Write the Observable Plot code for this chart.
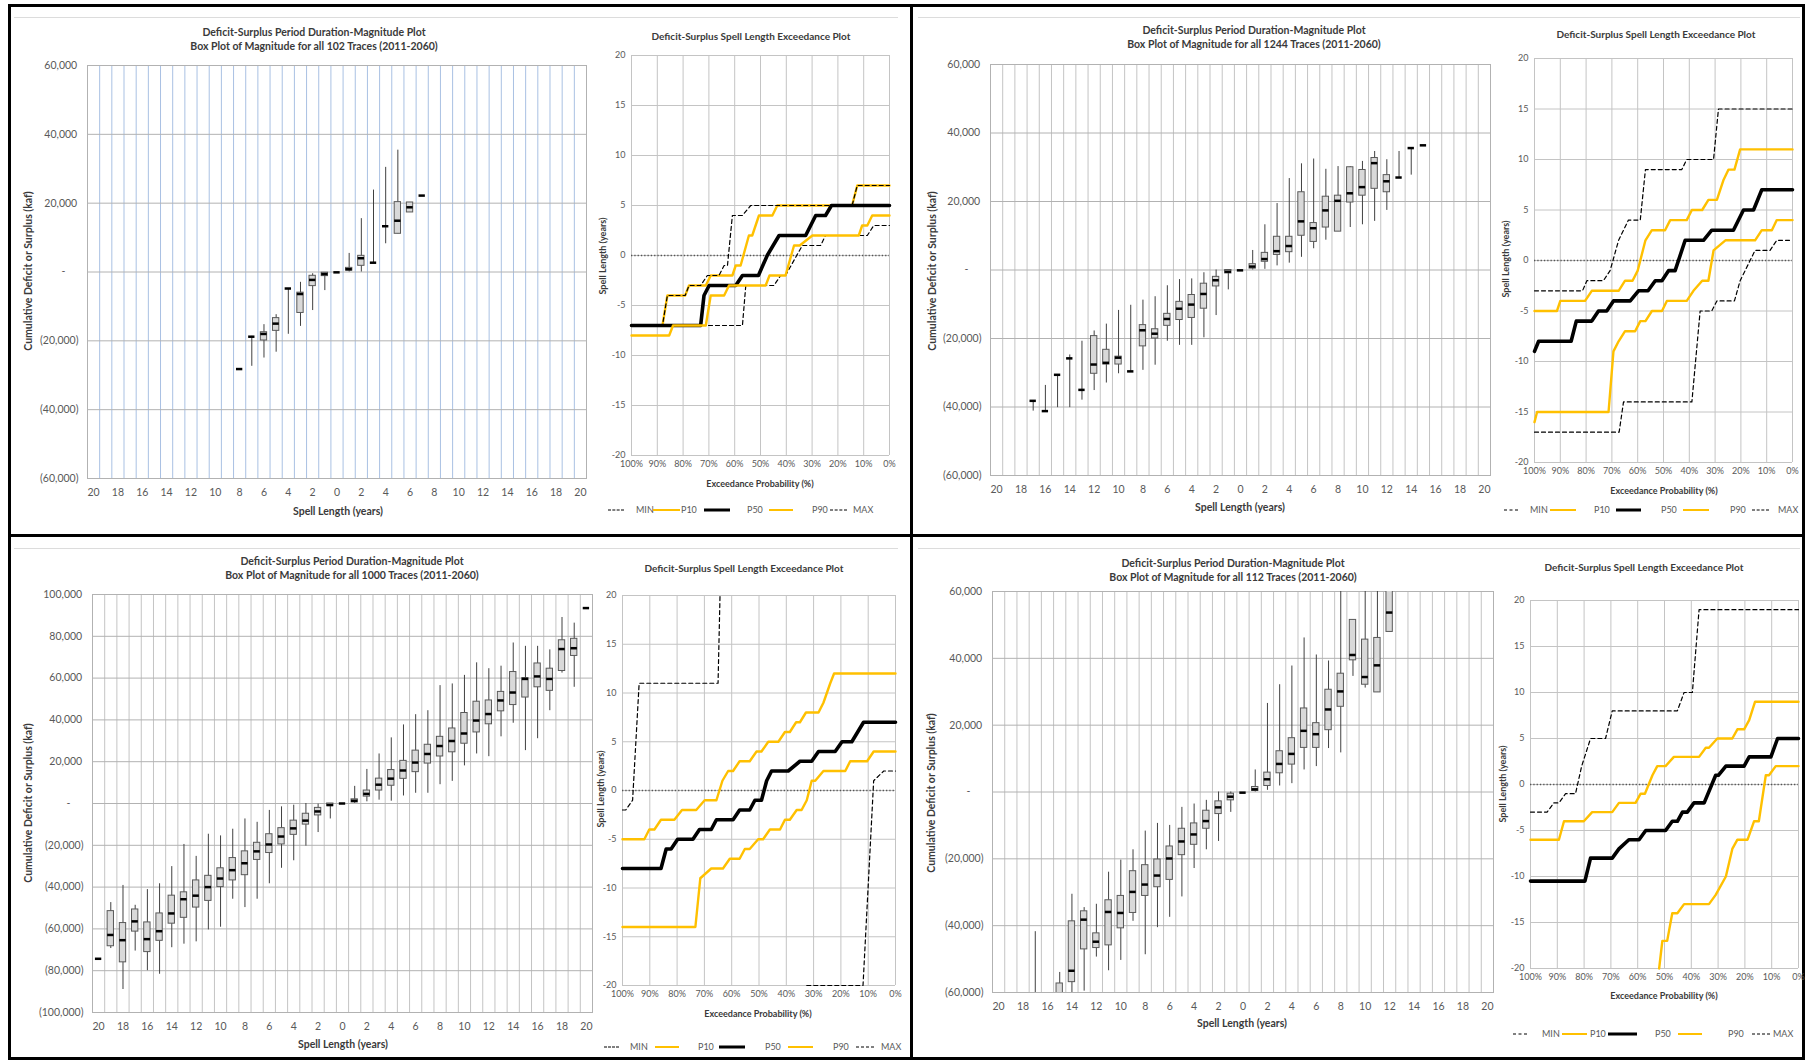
<!DOCTYPE html>
<html><head><meta charset="utf-8">
<script src="https://cdn.jsdelivr.net/npm/d3@7"></script>
<script src="https://cdn.jsdelivr.net/npm/@observablehq/plot@0.6"></script>
<style>
body{margin:0;background:#fff;}
#page{position:relative;width:1815px;height:1062px;overflow:hidden;font-family:Lato,"Open Sans",sans-serif;background:#fff;}
.t{position:absolute;white-space:nowrap;color:#3a3a3a;font-weight:bold;line-height:1;}
.lg{position:absolute;white-space:nowrap;color:#595959;font-size:9px;line-height:1;}
.sw{position:absolute;height:0;}
.ln{position:absolute;}
</style></head><body><div id="page"></div>
<script>
// ---------------- DATA ----------------
// box plot rows: [spell length (neg = deficit), whisker low, q1, median, q3, whisker high] in kaf
const tlBox = [
 [-8,-28200,-28200,-28200,-28200,-28200],[-7,-27400,-18800,-18800,-18800,-18700],
 [-6,-25000,-19900,-18000,-17500,-15300],[-5,-23300,-17100,-15000,-13400,-12400],
 [-4,-18100,-4800,-4800,-4800,-4800],[-3,-15800,-11900,-6400,-6000,-3000],
 [-2,-11200,-4100,-2300,-1100,-500],[-1,-5400,-1200,-600,-200,-200],
 [0,-100,-100,-100,-100,-100],[1,0,400,800,1200,5400],[2,0,1800,4000,4700,15500],
 [3,2700,2700,2700,2700,23800],[4,8200,13300,13300,13300,30400],
 [5,11100,11100,14900,20300,35400],[6,17300,17300,18800,20200,20200],
 [7,22200,22200,22200,22200,22200]
];
const trBox = [
 [-17,-41200,-38200,-38200,-38200,-38200],[-16,-41200,-41200,-41200,-41200,-33700],
 [-15,-40200,-30600,-30600,-30600,-30600],[-14,-40200,-25800,-25800,-25800,-24800],
 [-13,-38000,-35000,-35000,-35000,-20800],[-12,-35200,-30300,-27600,-19300,-17800],
 [-11,-33000,-27600,-27100,-23300,-15800],[-10,-30300,-27600,-25600,-25300,-11800],
 [-9,-29600,-29600,-29600,-29600,-10300],[-8,-29300,-22300,-17600,-16100,-8800],
 [-7,-27800,-20000,-18600,-17300,-7800],[-6,-20800,-16300,-14300,-12800,-4600],
 [-5,-22000,-14600,-11300,-9300,-2800],[-4,-22000,-14000,-10100,-7300,-2600],
 [-3,-19800,-11300,-7000,-4000,-800],[-2,-13300,-4800,-3000,-2000,0],
 [-1,-5800,-1000,-500,0,0],[0,-100,-100,-100,-100,-100],
 [1,0,400,1000,1700,5700],[2,200,2400,3200,5000,13200],[3,1200,4400,5500,9700,19400],
 [4,2000,5200,7000,9700,26700],[5,3700,10000,14200,22700,31000],
 [6,6200,8200,12200,13700,32400],[7,8700,12400,17400,21400,29400],
 [8,11200,11200,20200,21700,30200],[9,12400,19700,22400,30000,30200],
 [10,13200,21700,24200,29200,31700],[11,14200,23700,31200,32700,34600],
 [12,17400,22700,25900,27700,32200],[13,27000,27000,27000,27000,34600],
 [14,27700,35600,35600,35600,35600],[15,36400,36400,36400,36400,36400]
];
const blBox = [
 [-20,-74300,-74300,-74300,-74300,-74300],[-19,-69400,-68300,-62900,-51500,-47400],
 [-18,-89000,-76000,-65400,-57200,-39200],[-17,-70600,-61300,-56400,-50700,-48700],
 [-16,-80000,-71100,-64900,-56900,-41200],[-15,-81700,-65700,-61100,-52600,-38400],
 [-14,-69000,-57500,-52600,-44100,-30200],[-13,-67300,-54700,-45800,-42500,-19600],
 [-12,-66200,-49800,-44100,-36800,-25300],[-11,-60500,-46600,-40000,-34600,-14700],
 [-10,-59200,-40000,-35900,-31000,-15500],[-9,-45800,-36800,-31900,-26100,-12300],
 [-8,-49800,-34300,-28600,-22900,-7400],[-7,-45800,-27000,-22900,-18800,-9000],
 [-6,-38400,-23700,-19600,-14700,-3300],[-5,-31000,-19600,-15800,-11800,-1600],
 [-4,-27400,-15000,-11900,-8200,-800],[-3,-20400,-10100,-8200,-4900,0],
 [-2,-13900,-5700,-3800,-2100,-300],[-1,-7400,-1300,-700,0,0],[0,0,0,0,0,0],
 [1,0,500,1300,2000,8200],[2,800,3300,4600,6200,16300],[3,1600,6200,9000,11900,23700],
 [4,1100,8500,11900,16000,31400],[5,3600,11800,15800,20400,37600],
 [6,4900,15000,19600,25300,42500],[7,4900,19100,23700,28100,44400],
 [8,9000,22500,27500,31900,56400],[9,10600,24500,29900,35900,57200],
 [10,18000,28600,33500,43300,61300],[11,23700,34000,39700,48700,67300],
 [12,22400,37900,42800,49300,64500],[13,31900,44100,49300,53400,65700],
 [14,38400,47100,53100,62900,76800],[15,25300,50700,59600,60000,75200],
 [16,31000,55600,60800,67000,75200],[17,44400,53900,59600,64500,73500],
 [18,62400,63400,73900,78100,89000],[19,55600,70600,74300,78800,86300],
 [20,93500,93500,93500,93500,93500]
];
const brBox = [
 [-17,-66000,-64000,-63000,-62000,-41800],[-15,-66000,-64000,-61000,-57300,-54000],
 [-14,-62000,-56900,-53500,-38700,-30600],[-13,-59600,-47100,-38200,-35700,-34600],
 [-12,-49400,-46700,-44800,-42300,-33600],[-11,-53500,-45900,-35900,-32400,-24000],
 [-10,-50400,-40800,-36200,-31100,-20400],[-9,-38700,-36200,-29900,-23700,-17300],
 [-8,-48700,-31100,-27700,-21900,-11700],[-7,-40600,-28500,-25000,-20200,-9400],
 [-6,-37500,-26300,-19900,-16300,-10000],[-5,-31400,-18900,-14800,-11000,-4600],
 [-4,-22900,-15800,-12700,-9400,-3600],[-3,-17300,-11000,-8700,-5600,-2500],
 [-2,-14800,-6600,-4600,-2800,0],[-1,-6100,-2500,-1400,-500,0],
 [0,-200,-200,-200,-200,-200],[1,0,300,800,1500,6600],[2,500,1800,3800,5800,26500],
 [3,1800,5600,8400,12200,32100],[4,2500,8200,11400,16100,37700],
 [5,6600,13200,18300,25000,46100],[6,7600,13200,17300,20600,41000],
 [7,13000,18500,24700,30600,39200],[8,11700,25500,30100,35400,62000],
 [9,34600,39400,41000,51500,51500],[10,31100,32100,34400,45600,62000],
 [11,29800,29800,37900,46100,62000],[12,47900,47900,53700,62000,62000]
];

// exceedance series: [exceedance probability %, spell length years]
const tlMin = [[100,-7],[57,-7],[55.7,-3],[44.8,-3],[42.2,-2],[40.3,-2],[33.8,1],[26.7,1],[24.8,2],[8.6,2],[6.1,3],[0,3]];
const tlP10 = [[100,-7],[88,-7],[86.1,-4],[79.2,-4],[77.7,-3],[71.2,-3],[69.3,-2],[60.9,-2],[59.6,-1],[57.7,-1],[54.5,2],[53.2,2],[50.6,4],[45.4,4],[43.5,5],[14.5,5],[12.5,7],[0,7]];
const tlP50 = [[100,-7],[73.2,-7],[71.9,-4],[69.9,-3],[59.6,-3],[57,-2],[50.8,-2],[47.4,0],[42.8,2],[32.5,2],[28.6,4],[24.8,4],[22.5,5],[0,5]];
const tlP90 = [[100,-8],[85.4,-8],[83.9,-7],[71.2,-7],[69.3,-4],[64.1,-4],[62.2,-3],[48,-3],[46.5,-2],[40.3,-2],[37,1],[34.8,1],[29.9,2],[11.9,2],[10.6,3],[8.6,3],[6.7,4],[0,4]];
const tlMax = [[100,-7],[88,-7],[86.1,-4],[79.2,-4],[77.7,-3],[73.2,-3],[70.6,-2],[66.1,-2],[64.1,-1],[62.8,-1],[60.9,4],[57,4],[53.8,5],[14.5,5],[12.5,7],[0,7]];

const trMin = [[100,-17],[67.2,-17],[65.5,-14],[39,-14],[35.8,-5],[31.3,-5],[29.3,-4],[22.5,-4],[20.3,-2],[14.5,1],[8.7,1],[6.1,2],[0,2]];
const trP10 = [[100,-5],[91.3,-5],[90,-4],[80.4,-4],[77.8,-3],[67.4,-3],[64.9,-2],[62,-2],[60,-1],[57,2],[54.5,3],[49.4,3],[47.4,4],[41,4],[39,5],[35,5],[32.6,6],[29.3,6],[26.7,8],[24.8,9],[22.5,9],[20.3,11],[0,11]];
const trP50 = [[100,-9],[98.4,-8],[85.8,-8],[83.8,-6],[77.8,-6],[75.2,-5],[72,-5],[69.4,-4],[62.9,-4],[59.7,-3],[56,-3],[53.2,-2],[50.6,-2],[48,-1],[45.5,-1],[41.6,2],[34.5,2],[31.3,3],[22.9,3],[19,5],[15.1,5],[11.9,7],[0,7]];
const trP90 = [[100,-16],[99,-15],[71.3,-15],[69.4,-9],[67.4,-8],[64.9,-7],[61,-7],[59,-6],[57,-6],[54.5,-5],[50.6,-5],[48.7,-4],[41,-4],[38.4,-3],[35,-2],[32.6,-2],[30.6,1],[26,2],[14.5,2],[11.9,3],[8,3],[6.1,4],[0,4]];
const trMax = [[100,-3],[81.4,-3],[79.7,-2],[73.3,-2],[70.7,-1],[67.4,2],[63.6,4],[59,4],[57,9],[42.9,9],[41,10],[30.6,10],[28.7,15],[0,15]];

const blMin = [[32.5,-20],[11.9,-20],[8,1],[4.3,2],[0,2]];
const blP10 = [[100,-5],[92,-5],[90.2,-4],[88.3,-4],[85.9,-3],[81,-3],[78.2,-2],[73,-2],[69.9,-1],[65.6,-1],[63.4,1],[61.3,2],[59.5,2],[57.1,3],[53.4,3],[50.9,4],[49.1,4],[46.6,5],[42.9,5],[40.5,6],[38.7,6],[36.4,7],[35,7],[32.8,8],[28.2,8],[26.4,9],[23.9,11],[22.5,12],[0,12]];
const blP50 = [[100,-8],[85.9,-8],[84,-6],[82.2,-6],[79.8,-5],[74.2,-5],[71.8,-4],[67.5,-4],[65.6,-3],[59.5,-3],[57.1,-2],[53.4,-2],[51.5,-1],[49.1,-1],[47.2,1],[45.4,2],[39.3,2],[35,3],[30.7,3],[28.2,4],[22.1,4],[19.6,5],[16,5],[11.7,7],[0,7]];
const blP90 = [[100,-14],[73.3,-14],[71.5,-9],[67.5,-8],[63.2,-8],[60.7,-7],[57.1,-7],[55.2,-6],[53.4,-6],[50.3,-5],[48.5,-5],[46,-4],[42.3,-4],[40.5,-3],[38.7,-3],[36.2,-2],[34.4,-2],[32.5,-1],[30.7,1],[29.4,1],[26.4,2],[18.4,2],[16.6,3],[10.4,3],[8,4],[0,4]];
const blMax = [[100,-2],[98.8,-2],[96.3,-1],[93.9,11],[65,11],[64.2,21]];

const brMin = [];
const brP10 = [[100,-6],[89.4,-6],[87.5,-4],[80.1,-4],[77,-3],[69.5,-3],[67,-2],[60.8,-2],[58.9,-1],[57.3,-1],[54.5,1],[52.7,2],[49.6,2],[46.5,3],[37.1,3],[34.6,4],[33.4,4],[30.3,5],[24.7,5],[22.8,6],[20.3,6],[18.4,7],[16.2,9],[0,9]];
const brP50 = [[100,-10.5],[79.7,-10.5],[77.6,-8],[69.5,-8],[67,-7],[63.3,-6],[59.5,-6],[57,-5],[49.6,-5],[47.1,-4],[45.2,-4],[43.3,-3],[41.5,-3],[39,-2],[35.2,-2],[30.9,1],[29.9,1],[27.1,2],[20.3,2],[18.4,3],[10.3,3],[7.8,5],[0,5]];
const brP90 = [[52,-20],[50.8,-17],[49,-17],[47.1,-14],[45.2,-14],[42.7,-13],[33.4,-13],[30.9,-12],[27.1,-10],[24.7,-7],[22.8,-6],[19,-6],[16.6,-4],[14.8,-4],[12.2,1],[11,1],[8.5,2],[0,2]];
const brMax = [[100,-3],[93.8,-3],[91.3,-2],[89.4,-2],[86.9,-1],[83.2,-1],[80.9,2],[77.6,5],[72,5],[69.5,8],[45.2,8],[42.7,10],[39.6,10],[37.1,19],[0,19]];

const boxTitles = ["Box Plot of Magnitude for all 102 Traces (2011-2060)","Box Plot of Magnitude for all 1244 Traces (2011-2060)","Box Plot of Magnitude for all 1000 Traces (2011-2060)","Box Plot of Magnitude for all 112 Traces (2011-2060)"];
const legendNames = ["MIN","P10","P50","P90","MAX"];

// ---------------- DRAWING ----------------
const FONT = "Lato, 'Open Sans', sans-serif";
const page = document.getElementById("page");
const GOLD = "#ffc000";

function el(cls, css, text) {
  const d = document.createElement("div");
  d.className = cls;
  Object.assign(d.style, css);
  if (text != null) d.textContent = text;
  page.appendChild(d);
  return d;
}
function txt(s, x, y, size = 10, rot = 0) {
  el("t", {left: x + "px", top: y + "px", fontSize: size + "px",
    transform: "translate(-50%,-50%)" + (rot ? " rotate(" + rot + "deg)" : "")}, s);
}
function place(svg, left, top) {
  svg.style.position = "absolute";
  svg.style.left = left + "px";
  svg.style.top = top + "px";
  page.appendChild(svg);
}
const comma = d3.format(",");
const kfmt = d => d === 0 ? "-\u2003\u2002" : d < 0 ? "(" + comma(-d) + ")" : comma(d) + "\u2009";

function boxPlot(rows, area, yMax, vgrid) {
  const [x0, x1, y0, y1] = area;
  const ml = 70, mr = 4, mt = 6, mb = 30;
  const yTicks = d3.range(-yMax, yMax + 1, 20000);
  const boxes = rows.filter(r => r[2] !== r[4]);
  const whisk = rows.filter(r => r[1] !== r[5]);
  const svg = Plot.plot({
    width: x1 - x0 + ml + mr, height: y1 - y0 + mt + mb,
    marginLeft: ml, marginRight: mr, marginTop: mt, marginBottom: mb,
    style: {fontFamily: FONT, fontSize: "10.5px", color: "#595959", background: "none", overflow: "visible"},
    x: {type: "linear", domain: [-20.5, 20.5], ticks: d3.range(-20, 21, 2), tickFormat: d => String(Math.abs(d)), tickSize: 0, tickPadding: 10, label: null},
    y: {domain: [-yMax, yMax], ticks: yTicks, tickFormat: kfmt, tickSize: 0, tickPadding: 9, label: null},
    marks: [
      Plot.ruleX(d3.range(-20.5, 20.6, 1), {stroke: vgrid, strokeWidth: 1}),
      Plot.ruleY(yTicks, {stroke: "#b2b2b2"}),
      Plot.frame({stroke: "#b2b2b2"}),
      Plot.ruleX(whisk, {x: r => r[0], y1: r => r[1], y2: r => r[5], stroke: "#404040", strokeWidth: 1, clip: true}),
      Plot.rect(boxes, {x1: r => r[0] - 0.26, x2: r => r[0] + 0.26, y1: r => r[2], y2: r => r[4], fill: "#d9d9d9", stroke: "#595959", strokeWidth: 1, clip: true}),
      Plot.ruleY(rows, {y: r => r[3], x1: r => r[0] - 0.26, x2: r => r[0] + 0.26, stroke: "#000", strokeWidth: 2.5, clip: true})
    ]
  });
  place(svg, x0 - ml, y0 - mt);
}

function excPlot(s, area) {
  const [x0, x1, y0, y1] = area;
  const ml = 34, mr = 8, mt = 6, mb = 24;
  const dashed = {stroke: "#000", strokeWidth: 1.2, strokeDasharray: "4,3"};
  const gold = {stroke: GOLD, strokeWidth: 2.4};
  const black = {stroke: "#000", strokeWidth: 3.6};
  const out = data => data.some(d => d[1] > 20 || d[1] < -20);
  const line = (data, o) => Plot.line(data, {x: d => d[0], y: d => d[1], clip: out(data), ...o});
  const svg = Plot.plot({
    width: x1 - x0 + ml + mr, height: y1 - y0 + mt + mb,
    marginLeft: ml, marginRight: mr, marginTop: mt, marginBottom: mb,
    style: {fontFamily: FONT, fontSize: "9px", color: "#595959", background: "none", overflow: "visible"},
    x: {domain: [100, 0], ticks: d3.range(100, -1, -10), tickFormat: d => d + "%", tickSize: 0, tickPadding: 5, label: null},
    y: {domain: [-20, 20], ticks: d3.range(-20, 21, 5), tickFormat: d => String(d), tickSize: 0, tickPadding: 6, label: null},
    marks: [
      Plot.ruleX(d3.range(0, 101, 10), {stroke: "#c4c4c4"}),
      Plot.ruleY(d3.range(-20, 21, 5), {stroke: "#c4c4c4"}),
      Plot.ruleY([0], {stroke: "#555", strokeWidth: 1.3, strokeDasharray: "1.3,2"}),
      line(s.min, dashed), line(s.p10, gold), line(s.p50, black), line(s.p90, gold), line(s.max, dashed)
    ]
  });
  place(svg, x0 - ml, y0 - mt);
}

function legend(xs, y) {
  // xs: [dashS,dashE,MIN, goldS,goldE,P10, blackS,blackE,P50, goldS,goldE,P90, dashS,dashE,MAX]
  const styles = ["1.3px dashed #000", "2.4px solid " + GOLD, "3.6px solid #000", "2.4px solid " + GOLD, "1.3px dashed #000"];
  for (let i = 0; i < 5; i++) {
    const a = xs[i * 3], b = xs[i * 3 + 1], t = xs[i * 3 + 2];
    el("sw", {left: a + "px", width: (b - a) + "px", top: y + "px", borderTop: styles[i], transform: "translateY(-50%)"});
    el("lg", {left: t + "px", top: (y - 5) + "px"}, legendNames[i]);
  }
}

// frame lines
el("ln", {left: "8px", top: "4px", width: "1797px", height: "1056px", border: "3px solid #000", boxSizing: "border-box"});
el("ln", {left: "910px", top: "4px", width: "3px", height: "1056px", background: "#000"});
el("ln", {left: "8px", top: "534px", width: "1797px", height: "3px", background: "#000"});
el("ln", {left: "14px", top: "17px", width: "884px", height: "1px", background: "#dcdcdc"});
el("ln", {left: "918px", top: "17px", width: "882px", height: "1px", background: "#dcdcdc"});
el("ln", {left: "14px", top: "548px", width: "884px", height: "1px", background: "#dcdcdc"});
el("ln", {left: "918px", top: "548px", width: "882px", height: "1px", background: "#dcdcdc"});

const panels = [
  {box: tlBox, boxArea: [87, 586, 65, 478], yMax: 60000, vgrid: "#a9c1e3",
   exc: {min: tlMin, p10: tlP10, p50: tlP50, p90: tlP90, max: tlMax}, excArea: [631, 889, 55, 455],
   title: [314, 32], excTitle: [751, 36], bx: [338, 511], by: [28, 271], ex: [760, 483], ey: [602, 256],
   leg: [[608,624,636, 653,680,681, 704,730,747, 769,793,812, 830,847,853], 510]},
  {box: trBox, boxArea: [990, 1490, 64, 475], yMax: 60000, vgrid: "#c4c4c4",
   exc: {min: trMin, p10: trP10, p50: trP50, p90: trP90, max: trMax}, excArea: [1534, 1792, 58, 462],
   title: [1254, 30], excTitle: [1656, 34], bx: [1240, 507], by: [932, 271], ex: [1664, 490], ey: [1505, 259],
   leg: [[1504,1518,1530, 1550,1576,1594, 1616,1641,1661, 1683,1709,1730, 1752,1769,1778], 510]},
  {box: blBox, boxArea: [92, 592, 594, 1012], yMax: 100000, vgrid: "#c4c4c4",
   exc: {min: blMin, p10: blP10, p50: blP50, p90: blP90, max: blMax}, excArea: [622, 895, 595, 985],
   title: [352, 561], excTitle: [744, 568], bx: [343, 1044], by: [28, 803], ex: [758, 1013], ey: [600, 789],
   leg: [[604,619,630, 655,679,698, 719,745,765, 788,813,833, 856,874,881], 1047]},
  {box: brBox, boxArea: [992, 1493, 591, 992], yMax: 60000, vgrid: "#c4c4c4",
   exc: {min: brMin, p10: brP10, p50: brP50, p90: brP90, max: brMax}, excArea: [1530, 1798, 600, 968],
   title: [1233, 563], excTitle: [1644, 567], bx: [1242, 1023], by: [931, 793], ex: [1664, 995], ey: [1502, 784],
   leg: [[1513,1527,1542, 1562,1587,1590, 1608,1637,1655, 1678,1702,1728, 1752,1770,1773], 1034]}
];

panels.forEach((p, i) => {
  boxPlot(p.box, p.boxArea, p.yMax, p.vgrid);
  excPlot(p.exc, p.excArea);
  txt("Deficit-Surplus Period Duration-Magnitude Plot", p.title[0], p.title[1], 10.5);
  txt(boxTitles[i], p.title[0], p.title[1] + 14, 10.5);
  txt("Deficit-Surplus Spell Length Exceedance Plot", p.excTitle[0], p.excTitle[1], 10);
  txt("Spell Length (years)", p.bx[0], p.bx[1], 10.5);
  txt("Cumulative Deficit or Surplus (kaf)", p.by[0], p.by[1], 10.5, -90);
  txt("Exceedance Probability (%)", p.ex[0], p.ex[1], 9);
  txt("Spell Length (years)", p.ey[0], p.ey[1], 9, -90);
  legend(p.leg[0], p.leg[1]);
});
</script></body></html>
